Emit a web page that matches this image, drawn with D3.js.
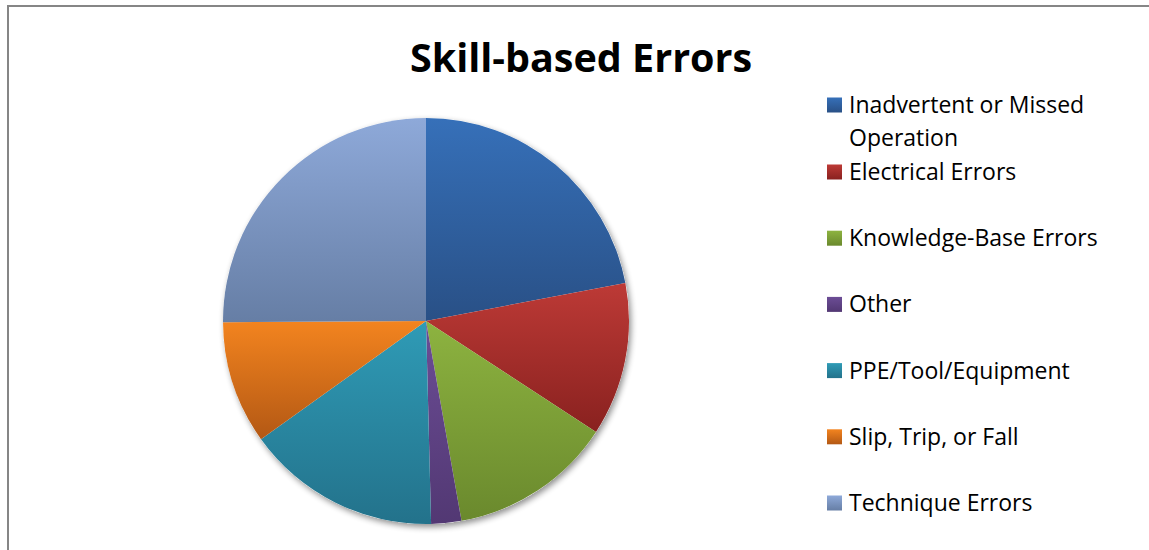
<!DOCTYPE html>
<html lang="en">
<head>
    <meta charset="UTF-8">
    <script src="https://d3js.org/d3.v7.min.js"></script>
    <title>Skill-based Errors</title>
    <style>
        html,
        body {
            margin: 0px;
            padding: 0px;
            background-color: #ffffff;
            font-family: "Open Sans", sans-serif;
        }
    </style>
</head>
<body>
    <div id="chart"></div>
    <script>

        const categories = [
            'Inadvertent or Missed Operation',
            'Electrical Errors',
            'Knowledge-Base Errors',
            'Other',
            'PPE/Tool/Equipment',
            'Slip, Trip, or Fall',
            'Technique Errors'
        ];
        const legendLines = [
            ['Inadvertent or Missed', 'Operation'],
            ['Electrical Errors'],
            ['Knowledge-Base Errors'],
            ['Other'],
            ['PPE/Tool/Equipment'],
            ['Slip, Trip, or Fall'],
            ['Technique Errors']
        ];
        // share of errors, in percent
        const values = [22.0, 12.2, 13.0, 2.4, 15.5, 9.8, 25.1];
        const topColors = ['#3670b9', '#bd3a36', '#8db340', '#6c4d96', '#2f9bb6', '#f3841f', '#8ea9d9'];
        const bottomColors = ['#295086', '#89211f', '#6a892d', '#523873', '#23728b', '#b35814', '#667ea5'];

        const width = 1149, height = 550;
        const cx = 426, cy = 321, radius = 203;

        const svg = d3.select('#chart').append('svg')
            .attr('width', width).attr('height', height);

        const defs = svg.append('defs');

        // soft shadow under the pie
        const shadow = defs.append('filter').attr('id', 'shadow')
            .attr('x', '-10%').attr('y', '-10%').attr('width', '130%').attr('height', '130%');
        shadow.append('feGaussianBlur').attr('in', 'SourceAlpha').attr('stdDeviation', 3);
        shadow.append('feOffset').attr('dx', 2).attr('dy', 3).attr('result', 'blur');
        shadow.append('feComponentTransfer').append('feFuncA').attr('type', 'linear').attr('slope', 0.45);
        const merge = shadow.append('feMerge');
        merge.append('feMergeNode');
        merge.append('feMergeNode').attr('in', 'SourceGraphic');

        categories.forEach((c, i) => {
            const grad = defs.append('linearGradient').attr('id', 'grad' + i)
                .attr('x1', 0).attr('y1', 0).attr('x2', 0).attr('y2', 1);
            grad.append('stop').attr('offset', '0%').attr('stop-color', topColors[i]);
            grad.append('stop').attr('offset', '100%').attr('stop-color', bottomColors[i]);
        });

        // chart frame
        svg.append('rect')
            .attr('x', 8).attr('y', 6)
            .attr('width', width).attr('height', height)
            .attr('fill', 'none')
            .attr('stroke', '#868686')
            .attr('stroke-width', 2);

        svg.append('text')
            .attr('x', 581).attr('y', 72)
            .attr('text-anchor', 'middle')
            .attr('font-weight', 'bold')
            .attr('font-size', '39.5px')
            .attr('fill', '#000')
            .text('Skill-based Errors');

        const pie = d3.pie().sort(null).value(d => d);
        const arc = d3.arc().innerRadius(0).outerRadius(radius);

        const g = svg.append('g')
            .attr('transform', `translate(${cx},${cy})`);

        g.append('circle')
            .attr('r', radius)
            .attr('fill', '#fff')
            .attr('filter', 'url(#shadow)');

        g.selectAll('path')
            .data(pie(values))
            .join('path')
            .attr('d', arc)
            .attr('fill', (d, i) => `url(#grad${i})`);

        // legend
        const legendY = d3.scalePoint()
            .domain(d3.range(1, categories.length))
            .range([172, 503]);
        const rowY = i => i === 0 ? 105 : legendY(i);

        const legend = svg.append('g')
            .selectAll('g')
            .data(categories)
            .join('g')
            .attr('transform', (d, i) => `translate(827,${rowY(i)})`);

        legend.append('rect')
            .attr('x', 0).attr('y', -7.5)
            .attr('width', 15).attr('height', 15)
            .attr('fill', (d, i) => `url(#grad${i})`);

        legend.append('text')
            .attr('font-size', '23px')
            .attr('fill', '#000')
            .selectAll('tspan')
            .data((d, i) => legendLines[i])
            .join('tspan')
            .attr('x', 22)
            .attr('y', (d, j) => 8 + j * 33)
            .text(d => d);

    </script>
</body>
</html>
